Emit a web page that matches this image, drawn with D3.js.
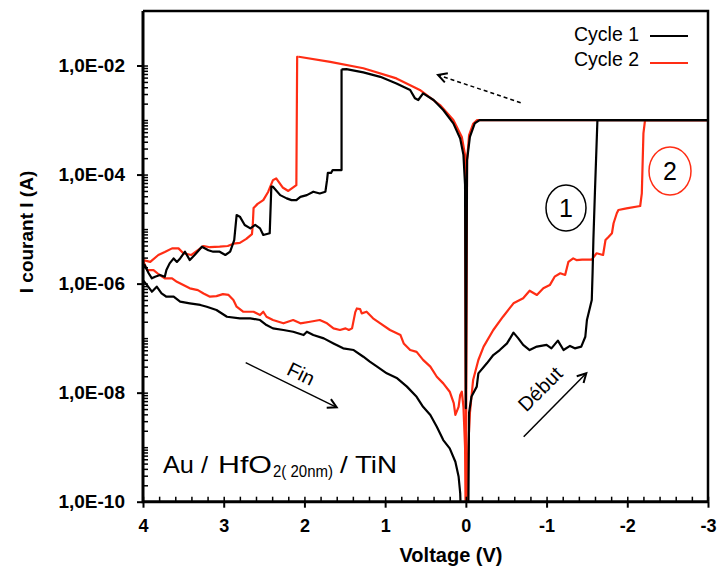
<!DOCTYPE html>
<html><head><meta charset="utf-8">
<script src="https://cdn.jsdelivr.net/npm/d3@7"></script>
<style>
html,body{margin:0;padding:0;background:#fff;}
svg{display:block;font-family:"Liberation Sans",Arial,Helvetica,sans-serif;}
</style></head>
<body><svg id="c" width="718" height="567"></svg>
<script>
// ---- data (Voltage V, Current A) ----
const xTickValues = [4,3,2,1,0,-1,-2,-3];
const yTickValues = [1e-2,1e-4,1e-6,1e-8,1e-10];
const yTickLabels = ["1,0E-02","1,0E-04","1,0E-06","1,0E-08","1,0E-10"];
const seriesNames = ["Cycle 1","Cycle 2"];

const cycle1Set = [[-0.03,5e-11],[-0.04,4.3e-9],[-0.07,8.5e-9],[-0.135,1.29e-8],[-0.155,2.26e-8],[-0.26,3.45e-8],[-0.34,4.9e-8],[-0.42,6.05e-8],[-0.51,8.0e-8],[-0.59,1.26e-7],[-0.65,9.9e-8],[-0.71,7.5e-8],[-0.79,6.05e-8],[-0.88,7.0e-8],[-1.0,7.5e-8],[-1.06,6.5e-8],[-1.14,9.0e-8],[-1.21,6.05e-8],[-1.29,7.2e-8],[-1.35,6.5e-8],[-1.43,7.0e-8],[-1.48,1.06e-7],[-1.50,2.15e-7],[-1.54,3.77e-7],[-1.56,5.0e-7],[-1.57,1.56e-6],[-1.58,6.3e-6],[-1.60,5.2e-5],[-1.63,1e-3],[-3,1e-3]];
const cycle1On = [[-3,1e-3],[-0.17,1e-3],[-0.11,8.7e-4],[-0.05,4.9e-4],[-0.015,1.85e-4],[0,5.2e-9],[0.01,6.5e-5],[0.03,2.3e-4],[0.07,4.6e-4],[0.155,8.7e-4],[0.28,1.53e-3],[0.40,2.33e-3],[0.53,3.09e-3],[0.59,2.33e-3],[0.63,2.5e-3],[0.69,3.56e-3],[0.86,4.7e-3],[1.06,6.2e-3],[1.27,7.5e-3],[1.48,8.6e-3],[1.54,8.5e-3]];
const cycle1Reset = [[1.54,8.5e-3],[1.54,1.21e-4],[1.65,1.21e-4],[1.67,1.07e-4],[1.71,1.07e-4],[1.72,7.9e-5],[1.74,4.85e-5],[1.81,4.5e-5],[1.89,4.85e-5],[1.97,4.2e-5],[2.05,3.9e-5],[2.10,3.4e-5],[2.16,3.4e-5],[2.22,3.66e-5],[2.30,4.2e-5],[2.39,6.0e-5],[2.41,6.0e-5],[2.43,8.4e-6],[2.51,7.8e-6],[2.55,1.03e-5],[2.61,1.19e-5],[2.67,1.03e-5],[2.74,1.19e-5],[2.80,1.69e-5],[2.84,1.81e-5],[2.87,6.3e-6],[2.92,3.85e-6],[2.98,3.35e-6],[3.05,3.85e-6],[3.13,3.85e-6],[3.19,4.1e-6],[3.27,4.75e-6],[3.36,3.35e-6],[3.42,2.7e-6],[3.48,3.85e-6],[3.54,2.9e-6],[3.58,2.5e-6],[3.62,2.9e-6],[3.67,2.35e-6],[3.71,1.77e-6],[3.73,1.34e-6],[3.79,1.44e-6],[3.85,1.34e-6],[3.89,1.25e-6],[3.93,1.55e-6],[3.98,2.2e-6],[4.0,2.0e-6]];
const cycle1Return = [[4.0,2.0e-6],[4.0,1.16e-6],[3.95,9.4e-7],[3.89,7.1e-7],[3.83,8.8e-7],[3.77,6.6e-7],[3.71,5.75e-7],[3.62,5.75e-7],[3.54,4.66e-7],[3.42,4.35e-7],[3.29,4.06e-7],[3.21,3.77e-7],[3.09,3.28e-7],[2.96,2.47e-7],[2.80,2.31e-7],[2.67,2.31e-7],[2.55,2.15e-7],[2.47,1.74e-7],[2.39,1.51e-7],[2.26,1.41e-7],[2.14,1.31e-7],[2.01,1.14e-7],[1.97,1.31e-7],[1.89,1.14e-7],[1.76,9.9e-8],[1.64,8.0e-8],[1.52,6.5e-8],[1.39,6.05e-8],[1.27,4.56e-8],[1.19,3.7e-8],[1.10,3.0e-8],[0.98,2.26e-8],[0.85,1.83e-8],[0.73,1.29e-8],[0.61,8.4e-9],[0.53,5.5e-9],[0.44,3.9e-9],[0.36,2.37e-9],[0.28,1.35e-9],[0.20,9.5e-10],[0.13,5.4e-10],[0.09,2.9e-10],[0.07,1.43e-10],[0.06,5e-11]];

const cycle2Set = [[-0.01,5e-11],[-0.03,1.02e-9],[-0.05,4.2e-9],[-0.09,1.71e-8],[-0.155,3.97e-8],[-0.22,7.0e-8],[-0.34,1.41e-7],[-0.46,2.47e-7],[-0.59,4.35e-7],[-0.71,5.4e-7],[-0.79,7.4e-7],[-0.88,6.2e-7],[-0.96,8.2e-7],[-1.04,9.4e-7],[-1.10,1.34e-6],[-1.17,1.55e-6],[-1.23,1.44e-6],[-1.27,2.5e-6],[-1.33,2.9e-6],[-1.37,2.7e-6],[-1.44,2.75e-6],[-1.56,2.75e-6],[-1.62,3.6e-6],[-1.70,3.35e-6],[-1.73,6.3e-6],[-1.77,7.25e-6],[-1.81,8.4e-6],[-1.83,1.28e-5],[-1.87,1.95e-5],[-1.89,2.24e-5],[-1.99,2.4e-5],[-2.16,2.65e-5],[-2.18,4.5e-5],[-2.20,5.7e-4],[-2.22,1e-3],[-3,1e-3]];
const cycle2On = [[-3,1e-3],[-0.14,1e-3],[-0.09,8.5e-4],[-0.04,5.3e-4],[-0.015,1.85e-4],[0,5e-11],[0.01,2.3e-4],[0.05,4.9e-4],[0.155,1e-3],[0.32,1.88e-3],[0.57,3.56e-3],[0.86,5.8e-3],[1.27,8.9e-3],[1.68,1.17e-2],[2.07,1.45e-2]];
const cycle2Reset = [[2.07,1.45e-2],[2.09,1.44e-2],[2.10,6.4e-5],[2.20,5.0e-5],[2.27,5.8e-5],[2.35,8.5e-5],[2.39,7.9e-5],[2.45,4.8e-5],[2.51,3.4e-5],[2.58,2.9e-5],[2.63,2.43e-5],[2.64,1.19e-5],[2.65,8.1e-6],[2.72,6.6e-6],[2.80,5.6e-6],[2.88,5.4e-6],[2.95,4.9e-6],[3.05,4.75e-6],[3.17,4.65e-6],[3.25,4.9e-6],[3.29,4.43e-6],[3.40,3.35e-6],[3.50,3.6e-6],[3.56,4.43e-6],[3.64,4.43e-6],[3.73,3.8e-6],[3.81,3.35e-6],[3.91,2.5e-6],[4.0,2.7e-6]];
const cycle2Return = [[4.0,2.7e-6],[3.95,1.77e-6],[3.87,1.77e-6],[3.81,1.5e-6],[3.73,1.25e-6],[3.64,1.25e-6],[3.58,1.08e-6],[3.50,9.4e-7],[3.42,8.2e-7],[3.32,7.6e-7],[3.25,6.6e-7],[3.17,5.75e-7],[3.09,5.9e-7],[3.01,6.4e-7],[2.94,6.2e-7],[2.88,5.0e-7],[2.84,3.77e-7],[2.76,3.05e-7],[2.63,3.05e-7],[2.55,2.65e-7],[2.51,3.05e-7],[2.47,2.47e-7],[2.39,2.15e-7],[2.26,1.87e-7],[2.14,2.15e-7],[2.05,1.87e-7],[1.93,2.0e-7],[1.81,2.15e-7],[1.72,1.87e-7],[1.64,1.51e-7],[1.56,1.41e-7],[1.49,1.51e-7],[1.45,1.41e-7],[1.41,1.51e-7],[1.37,3.0e-7],[1.35,3.5e-7],[1.31,3.4e-7],[1.29,2.85e-7],[1.23,3.05e-7],[1.15,2.31e-7],[1.06,1.87e-7],[0.94,1.41e-7],[0.81,1.14e-7],[0.77,8.0e-8],[0.69,6.05e-8],[0.61,5.6e-8],[0.53,4.0e-8],[0.44,3.0e-8],[0.36,1.96e-8],[0.28,1.48e-8],[0.20,1.04e-8],[0.15,6.4e-9],[0.13,3.9e-9],[0.09,5.5e-9],[0.07,9.1e-9],[0.05,1.04e-8],[0.03,5.5e-9],[0.01,1.02e-9],[0.0,5e-11]];

// ---- drawing ----
const L=143, R=708, T=11, B=501.7;
const RED="#ff2d14";
const svg=d3.select("#c");
const x=d3.scaleLinear().domain([4,-3]).range([L,R]);
const y=d3.scaleLog().domain([1e-10,1e-1]).range([B,T]);

svg.append("defs").append("clipPath").attr("id","clip")
  .append("rect").attr("x",L).attr("y",T).attr("width",R-L).attr("height",B-T);

const line=d3.line().x(d=>x(d[0])).y(d=>y(d[1]));
const g=svg.append("g").attr("clip-path","url(#clip)");
const c2=[cycle2Set,cycle2On,cycle2Reset,cycle2Return];
const c1=[cycle1Set,cycle1On,cycle1Reset,cycle1Return];
c2.forEach(arr=>g.append("path").datum(arr).attr("d",line).attr("fill","none")
  .attr("stroke",RED).attr("stroke-width",2.2).attr("stroke-linejoin","round"));
c1.forEach(arr=>g.append("path").datum(arr).attr("d",line).attr("fill","none")
  .attr("stroke","#000").attr("stroke-width",2.2).attr("stroke-linejoin","round"));

// minor ticks
const yMinor=[];
for(let e=-10;e<=-3;e++) for(let m=1;m<=9;m++) yMinor.push(m*Math.pow(10,e));
yMinor.push(1e-2);
svg.append("g").attr("transform",`translate(${L},0)`)
  .call(d3.axisLeft(y).tickValues(yMinor).tickSize(-5).tickFormat(""))
  .call(a=>a.select(".domain").remove())
  .selectAll("line").attr("stroke","#000").attr("stroke-width",1.5);
const xMinor=d3.range(-30,41,2).map(v=>v/10);
svg.append("g").attr("transform",`translate(0,${B})`)
  .call(d3.axisBottom(x).tickValues(xMinor).tickSize(-5).tickFormat(""))
  .call(a=>a.select(".domain").remove())
  .selectAll("line").attr("stroke","#000").attr("stroke-width",1.5);

// major axes
const yAx=svg.append("g").attr("transform",`translate(${L},0)`)
  .call(d3.axisLeft(y).tickValues(yTickValues).tickSize(6).tickPadding(12)
    .tickFormat((d,i)=>yTickLabels[i]));
yAx.select(".domain").remove();
yAx.selectAll("line").attr("stroke","#000").attr("stroke-width",2);
yAx.selectAll("text").attr("font-size",19).attr("font-weight","bold").attr("fill","#000")
  .attr("font-family","Liberation Sans, Arial, sans-serif");

const xAx=svg.append("g").attr("transform",`translate(0,${B})`)
  .call(d3.axisBottom(x).tickValues(xTickValues).tickSize(6).tickPadding(12)
    .tickFormat(d=>String(d)));
xAx.select(".domain").remove();
xAx.selectAll("line").attr("stroke","#000").attr("stroke-width",2);
xAx.selectAll("text").attr("font-size",18).attr("font-weight","bold").attr("fill","#000")
  .attr("font-family","Liberation Sans, Arial, sans-serif");

// frame
svg.append("path").attr("d",`M${L},${T}H${R}V${B}`).attr("fill","none").attr("stroke","#000").attr("stroke-width",2.5);
svg.append("path").attr("d",`M${L},${T}V${B}H${R}`).attr("fill","none").attr("stroke","#000").attr("stroke-width",3);

// axis titles
svg.append("text").attr("x",451).attr("y",562).attr("text-anchor","middle")
  .attr("font-size",20).attr("font-weight","bold").text("Voltage (V)");
svg.append("text").attr("transform","translate(33,232) rotate(-90)").attr("text-anchor","middle")
  .attr("font-size",19).attr("font-weight","bold").text("I courant I (A)");

// legend
const leg=svg.append("g");
[["#000",40.5,36],[RED,65.5,63]].forEach((s,i)=>{
  leg.append("text").attr("x",574).attr("y",s[1]).attr("font-size",19.5).text(seriesNames[i]);
  leg.append("line").attr("x1",650).attr("x2",688).attr("y1",s[2]).attr("y2",s[2])
    .attr("stroke",s[0]).attr("stroke-width",2.2);
});

// annotations
function arrow(x1,y1,x2,y2,dash){
  const a=Math.atan2(y2-y1,x2-x1), h=10, s=0.5;
  svg.append("line").attr("x1",x1).attr("y1",y1).attr("x2",x2).attr("y2",y2)
    .attr("stroke","#000").attr("stroke-width",1.5).attr("stroke-dasharray",dash?"4,3":null);
  svg.append("path").attr("d",`M${x2-h*Math.cos(a-s)},${y2-h*Math.sin(a-s)}L${x2},${y2}L${x2-h*Math.cos(a+s)},${y2-h*Math.sin(a+s)}`)
    .attr("fill","none").attr("stroke","#000").attr("stroke-width",2);
}
arrow(520.7,102.7,438,75,true);
arrow(245.7,362.7,336.7,407.3,false);
arrow(523.7,436.7,586.3,373.3,false);
svg.append("text").attr("transform","translate(298,380) rotate(26)").attr("text-anchor","middle")
  .attr("font-size",20).text("Fin");
svg.append("text").attr("transform","translate(545,394) rotate(-45)").attr("text-anchor","middle")
  .attr("font-size",20).text("Début");

svg.append("ellipse").attr("cx",566).attr("cy",208).attr("rx",20).attr("ry",23)
  .attr("fill","none").attr("stroke","#000").attr("stroke-width",1.5);
svg.append("text").attr("x",566).attr("y",217).attr("text-anchor","middle").attr("font-size",25).text("1");
svg.append("ellipse").attr("cx",670).attr("cy",171).attr("rx",21).attr("ry",24)
  .attr("fill","none").attr("stroke",RED).attr("stroke-width",1.5);
svg.append("text").attr("x",670).attr("y",180).attr("text-anchor","middle").attr("font-size",25).text("2");

const ann=[["Au /",163,473.3,24,45],["HfO",218,473.3,24,54],["2( 20nm)",273,476.5,16,60],["/ TiN",340,473.3,24,57]];
ann.forEach(a=>svg.append("text").attr("x",a[1]).attr("y",a[2]).attr("font-size",a[3])
  .attr("textLength",a[4]).attr("lengthAdjust","spacingAndGlyphs").text(a[0]));
</script></body></html>
